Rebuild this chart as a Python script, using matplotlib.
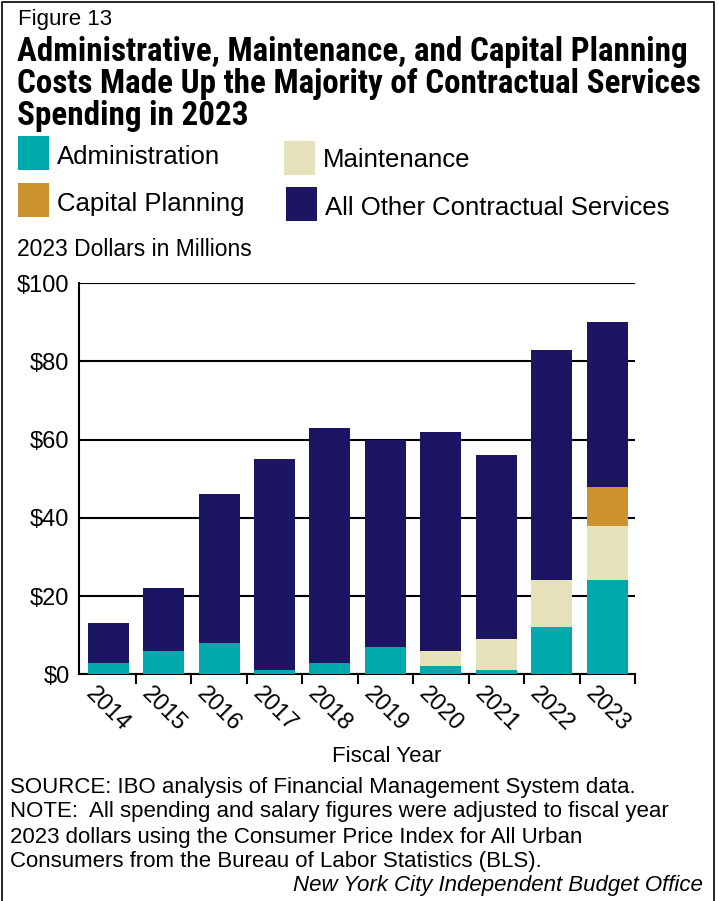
import matplotlib
matplotlib.use("Agg")
import matplotlib.pyplot as plt
import matplotlib.transforms as mtransforms
from matplotlib import font_manager
from matplotlib.patches import Rectangle
from matplotlib.lines import Line2D
import numpy as np

years = ["2014", "2015", "2016", "2017", "2018", "2019", "2020", "2021", "2022", "2023"]
administration = [3, 6, 8, 1, 3, 7, 2, 1, 12, 24]
maintenance = [0, 0, 0, 0, 0, 0, 4, 8, 12, 14]
capital_planning = [0, 0, 0, 0, 0, 0, 0, 0, 0, 10]
all_other = [10, 16, 38, 54, 60, 53, 56, 47, 59, 42]

series_names = ["Administration", "Maintenance", "Capital Planning", "All Other Contractual Services"]
colors = ["#00A9AC", "#E5E2B9", "#CC9230", "#1C1563"]

plt.rcParams["font.family"] = ["Liberation Sans", "DejaVu Sans"]

installed = {f.name for f in font_manager.fontManager.ttflist}
title_font = next((f for f in ["Roboto Condensed", "Liberation Sans Narrow", "Open Sans Condensed",
                               "Liberation Sans"] if f in installed), "DejaVu Sans")

W, H = 718, 901
fig = plt.figure(figsize=(W / 100, H / 100), dpi=100)


def px(x, y):
    return x / W, 1 - y / H


# outer frame (top, left, right)
fig.add_artist(Line2D([2 / W, 2 / W, 714 / W, 714 / W], [0, 1 - 2 / H, 1 - 2 / H, 0],
                      transform=fig.transFigure, color="black", lw=1.2))

fig.text(*px(18, 20), "Figure 13", fontsize=16, va="center", ha="left")

title = ["Administrative, Maintenance, and Capital Planning",
         "Costs Made Up the Majority of Contractual Services",
         "Spending in 2023"]
title_texts = [fig.text(*px(17, 52 + i * 32), line, fontsize=20, fontweight="bold",
                        family=[title_font, "DejaVu Sans"], va="center", ha="left")
               for i, line in enumerate(title)]
# size the title so the longest line spans the figure width
renderer = fig.canvas.get_renderer()
w = title_texts[1].get_window_extent(renderer).width
size = 20 * 685 / w
for t in title_texts:
    t.set_fontsize(size)

# legend swatches
legend_items = [
    (18, 136, 157, 0),
    (284, 141, 160, 1),
    (18, 183, 204, 2),
    (286, 187, 208, 3),
]
for x, ytop, ytext, k in legend_items:
    fig.add_artist(Rectangle(px(x, ytop + 34), 31 / W, 34 / H, transform=fig.transFigure,
                             facecolor=colors[k], edgecolor="none"))
    fig.text(*px(x + 39, ytext), series_names[k], fontsize=18.5, va="center", ha="left")

fig.text(*px(17, 250), "2023 Dollars in Millions", fontsize=16.5, va="center", ha="left")

ax = fig.add_axes([79.3 / W, 1 - 674.3 / H, (635 - 79.3) / W, (674.3 - 283.3) / H])
x = np.arange(len(years))
bottom = np.zeros(len(years))
for vals, c in zip([administration, maintenance, capital_planning, all_other], colors):
    ax.bar(x, vals, width=0.74, bottom=bottom, color=c, edgecolor="none", zorder=3)
    bottom += np.array(vals)

ax.set_ylim(0, 100)
ax.set_xlim(-0.52, 9.5)
ax.set_yticks([0, 20, 40, 60, 80, 100])
ax.set_yticklabels(["$0", "$20", "$40", "$60", "$80", "$100"], fontsize=17)
ax.tick_params(axis="y", length=0, pad=7)
ax.grid(axis="y", color="black", lw=1.5, zorder=1)
ax.set_axisbelow(True)

ax.set_xticks(x)
ax.set_xticklabels(years, rotation=-45, fontsize=17, ha="center", va="top")
shift = mtransforms.ScaledTranslation(3 / 100, 0, fig.dpi_scale_trans)
for lbl in ax.get_xticklabels():
    lbl.set_transform(lbl.get_transform() + shift)
ax.set_xticks(np.append(x[1:] - 0.5, 9.5), minor=True)
ax.tick_params(axis="x", which="major", length=0, pad=6)
ax.tick_params(axis="x", which="minor", length=7, width=1.5, direction="out")

for side in ["top", "right"]:
    ax.spines[side].set_visible(False)
for side in ["left", "bottom"]:
    ax.spines[side].set_linewidth(1.5)

fig.text(*px(387, 757), "Fiscal Year", fontsize=16, va="center", ha="center")
notes = ["SOURCE: IBO analysis of Financial Management System data.",
         "NOTE:  All spending and salary figures were adjusted to fiscal year",
         "2023 dollars using the Consumer Price Index for All Urban",
         "Consumers from the Bureau of Labor Statistics (BLS)."]
for i, line in enumerate(notes):
    fig.text(*px(10, 787 + i * 25), line, fontsize=16, va="center", ha="left")
fig.text(*px(703, 886), "New York City Independent Budget Office", fontsize=16,
         style="italic", va="center", ha="right")

fig.savefig("out.png", dpi=100)
